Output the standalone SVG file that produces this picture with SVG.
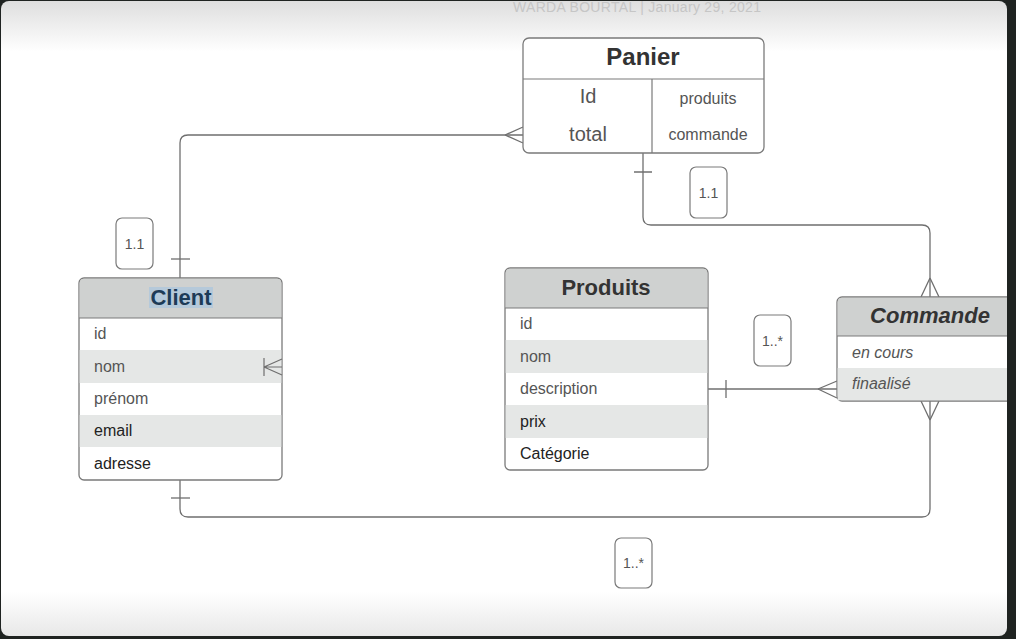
<svg xmlns="http://www.w3.org/2000/svg" width="1016" height="639" viewBox="0 0 1016 639">
<defs>
<linearGradient id="pageGrad" x1="0" y1="0" x2="0" y2="1">
<stop offset="0" stop-color="#dedede"/>
<stop offset="0.08" stop-color="#ffffff"/>
<stop offset="0.93" stop-color="#ffffff"/>
<stop offset="1" stop-color="#e8e8e8"/>
</linearGradient>
<clipPath id="pageClip"><rect x="1" y="1" width="1006" height="635" rx="8"/></clipPath>
</defs>
<style>
.box{fill:#ffffff;stroke:#7a7a7a;stroke-width:1.3}
.hdr{fill:#cfd1d0}
.alt{fill:#e5e7e6}
.sep{stroke:#7a7a7a;stroke-width:1.2;fill:none}
.conn path{fill:none;stroke:#6f6f6f;stroke-width:1.3}
.title{font-family:"Liberation Sans",Arial,sans-serif;font-weight:bold;font-size:22px;fill:#333;text-anchor:middle}
.row{font-family:"Liberation Sans",Arial,sans-serif;font-size:16px;fill:#555}
.big{font-size:20px;text-anchor:middle}
.mid{text-anchor:middle}
.dark{fill:#222}
.lbl{fill:#fff;stroke:#7a7a7a;stroke-width:1.2}
.lt{font-family:"Liberation Sans",Arial,sans-serif;font-size:14px;fill:#555;text-anchor:middle}
</style>
<rect x="0" y="0" width="1016" height="639" fill="#1f2321"/>
<rect x="1" y="1" width="1006" height="635" rx="8" fill="url(#pageGrad)"/>
<g clip-path="url(#pageClip)">
<text x="637" y="12" font-family="Liberation Sans,Arial,sans-serif" font-size="14" fill="#c6c6c6" text-anchor="middle" textLength="248">WARDA BOURTAL  |  January 29, 2021</text>

<g class="conn" id="connectors">
<path d="M523,135 H188 Q180,135 180,143 V278"/>
<path d="M505,135 L523,127 M505,135 L523,143"/>
<path d="M171,259 H190"/>
<path d="M643,153 V217 Q643,225 651,225 H922 Q930,225 930,233 V297"/>
<path d="M634,172 H652"/>
<path d="M930,278 L921,297 M930,278 L939,297"/>
<path d="M180,480 V509 Q180,517 188,517 H922 Q930,517 930,509 V401"/>
<path d="M171,498 H190"/>
<path d="M930,420 L921,401 M930,420 L939,401"/>
<path d="M708,389 H837"/>
<path d="M726,380 V398"/>
<path d="M818,389 L837,381 M818,389 L837,398"/>
</g>

<g id="panier">
<rect class="box" x="523" y="38" width="241" height="115" rx="6"/>
<path class="sep" d="M523,79 H764 M652,79 V153"/>
<text class="title" x="643" y="65" style="font-size:24px">Panier</text>
<text class="row big" x="588" y="103">Id</text>
<text class="row big" x="588" y="141">total</text>
<text class="row mid" x="708" y="104">produits</text>
<text class="row mid" x="708" y="140">commande</text>
</g>

<g id="client">
<rect class="box" x="79" y="278" width="203" height="202" rx="5"/>
<path class="hdr" d="M84,278.7 H277 Q281.3,278.7 281.3,283 V318 H79.7 V283 Q79.7,278.7 84,278.7 Z"/>
<rect class="alt" x="79.7" y="350" width="201.6" height="33"/>
<rect class="alt" x="79.7" y="415" width="201.6" height="32"/>
<path class="sep" d="M79,318 H282"/>
<rect x="149" y="287" width="64" height="21" fill="#b5c9da"/>
<text class="title" x="181" y="305" style="fill:#1d3b57">Client</text>
<text class="row" x="94" y="339">id</text>
<text class="row" x="94" y="372">nom</text>
<text class="row" x="94" y="404">prénom</text>
<text class="row dark" x="94" y="436">email</text>
<text class="row dark" x="94" y="469">adresse</text>
<path class="sep" d="M264,358 V376 M264,367 H282 M264,367 L282,359 M264,367 L282,375" style="stroke:#6f6f6f"/>
</g>

<g id="produits">
<rect class="box" x="505" y="268" width="203" height="202" rx="5"/>
<path class="hdr" d="M510,268.7 H703 Q707.3,268.7 707.3,273 V308 H505.7 V273 Q505.7,268.7 510,268.7 Z"/>
<rect class="alt" x="505.7" y="340" width="201.6" height="33"/>
<rect class="alt" x="505.7" y="405" width="201.6" height="33"/>
<path class="sep" d="M505,308 H708"/>
<text class="title" x="606" y="295">Produits</text>
<text class="row" x="520" y="329">id</text>
<text class="row" x="520" y="362">nom</text>
<text class="row" x="520" y="394">description</text>
<text class="row dark" x="520" y="427">prix</text>
<text class="row dark" x="520" y="459">Catégorie</text>
</g>

<g id="commande">
<rect class="box" x="837" y="297" width="200" height="104" rx="5"/>
<path class="hdr" d="M842,297.7 H1036 V336 H837.7 V302 Q837.7,297.7 842,297.7 Z"/>
<rect class="alt" x="837.7" y="368" width="200" height="32.3"/>
<path class="sep" d="M837,336 H1037"/>
<text class="title" x="930" y="323" style="font-style:italic">Commande</text>
<text class="row" x="852" y="358" style="font-style:italic">en cours</text>
<text class="row" x="852" y="389" style="font-style:italic">finaalisé</text>
</g>

<g id="label-client-panier">
<rect class="lbl" x="116" y="218" width="37" height="51" rx="6"/>
<text class="lt" x="134.5" y="249">1.1</text>
</g>
<g id="label-panier-commande">
<rect class="lbl" x="690" y="167" width="37" height="51" rx="6"/>
<text class="lt" x="708.5" y="198">1.1</text>
</g>
<g id="label-produits-commande">
<rect class="lbl" x="754" y="315" width="37" height="51" rx="6"/>
<text class="lt" x="772.5" y="346">1..*</text>
</g>
<g id="label-client-commande">
<rect class="lbl" x="615" y="538" width="37" height="50" rx="6"/>
<text class="lt" x="633.5" y="568">1..*</text>
</g>
</g>
</svg>
